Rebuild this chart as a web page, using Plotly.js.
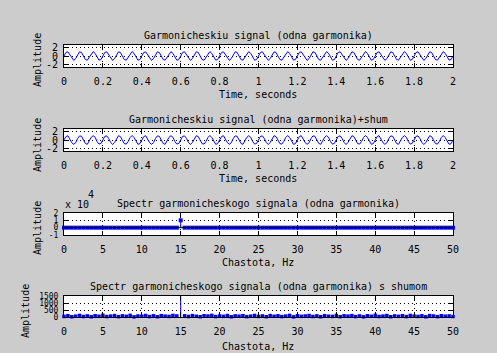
<!DOCTYPE html>
<html>
<head>
<meta charset="utf-8">
<script src="https://cdn.plot.ly/plotly-3.0.1.min.js"></script>
<style>
html,body{margin:0;padding:0;background:#cccccc;}
#chart{width:497px;height:353px;}
</style>
</head>
<body>
<div id="chart"></div>
<script>
// ---------- DATA ----------
// sampling: t = 0 .. 2 s, step 0.01 s (201 samples)
const timeStart = 0;
const timeStep = 0.01;

// harmonic signal, 15 Hz
const signal = [
0,0.81,0.95,0.31,-0.59,-1,-0.59,0.31,0.95,0.81,0,-0.81,-0.95,-0.31,0.59,1,0.59,-0.31,-0.95,-0.81,
0,0.81,0.95,0.31,-0.59,-1,-0.59,0.31,0.95,0.81,0,-0.81,-0.95,-0.31,0.59,1,0.59,-0.31,-0.95,-0.81,
0,0.81,0.95,0.31,-0.59,-1,-0.59,0.31,0.95,0.81,0,-0.81,-0.95,-0.31,0.59,1,0.59,-0.31,-0.95,-0.81,
0,0.81,0.95,0.31,-0.59,-1,-0.59,0.31,0.95,0.81,0,-0.81,-0.95,-0.31,0.59,1,0.59,-0.31,-0.95,-0.81,
0,0.81,0.95,0.31,-0.59,-1,-0.59,0.31,0.95,0.81,0,-0.81,-0.95,-0.31,0.59,1,0.59,-0.31,-0.95,-0.81,
0,0.81,0.95,0.31,-0.59,-1,-0.59,0.31,0.95,0.81,0,-0.81,-0.95,-0.31,0.59,1,0.59,-0.31,-0.95,-0.81,
0,0.81,0.95,0.31,-0.59,-1,-0.59,0.31,0.95,0.81,0,-0.81,-0.95,-0.31,0.59,1,0.59,-0.31,-0.95,-0.81,
0,0.81,0.95,0.31,-0.59,-1,-0.59,0.31,0.95,0.81,0,-0.81,-0.95,-0.31,0.59,1,0.59,-0.31,-0.95,-0.81,
0,0.81,0.95,0.31,-0.59,-1,-0.59,0.31,0.95,0.81,0,-0.81,-0.95,-0.31,0.59,1,0.59,-0.31,-0.95,-0.81,
0,0.81,0.95,0.31,-0.59,-1,-0.59,0.31,0.95,0.81,0,-0.81,-0.95,-0.31,0.59,1,0.59,-0.31,-0.95,-0.81,
0
];

// same signal with a little noise (noise is too small to see at this scale)
const signalNoisy = [
0.04,0.78,0.97,0.27,-0.61,-0.98,-0.62,0.33,0.93,0.84,-0.03,-0.79,-0.97,-0.28,0.61,0.98,0.62,-0.34,-0.93,-0.78,
0.02,0.83,0.93,0.34,-0.56,-1.03,-0.57,0.29,0.97,0.78,0.03,-0.83,-0.92,-0.33,0.57,1.02,0.56,-0.28,-0.98,-0.83,
0.04,0.78,0.97,0.27,-0.61,-0.98,-0.62,0.33,0.93,0.84,-0.03,-0.79,-0.97,-0.28,0.61,0.98,0.62,-0.34,-0.93,-0.78,
0.02,0.83,0.93,0.34,-0.56,-1.03,-0.57,0.29,0.97,0.78,0.03,-0.83,-0.92,-0.33,0.57,1.02,0.56,-0.28,-0.98,-0.83,
0.04,0.78,0.97,0.27,-0.61,-0.98,-0.62,0.33,0.93,0.84,-0.03,-0.79,-0.97,-0.28,0.61,0.98,0.62,-0.34,-0.93,-0.78,
0.02,0.83,0.93,0.34,-0.56,-1.03,-0.57,0.29,0.97,0.78,0.03,-0.83,-0.92,-0.33,0.57,1.02,0.56,-0.28,-0.98,-0.83,
0.04,0.78,0.97,0.27,-0.61,-0.98,-0.62,0.33,0.93,0.84,-0.03,-0.79,-0.97,-0.28,0.61,0.98,0.62,-0.34,-0.93,-0.78,
0.02,0.83,0.93,0.34,-0.56,-1.03,-0.57,0.29,0.97,0.78,0.03,-0.83,-0.92,-0.33,0.57,1.02,0.56,-0.28,-0.98,-0.83,
0.04,0.78,0.97,0.27,-0.61,-0.98,-0.62,0.33,0.93,0.84,-0.03,-0.79,-0.97,-0.28,0.61,0.98,0.62,-0.34,-0.93,-0.78,
0.02,0.83,0.93,0.34,-0.56,-1.03,-0.57,0.29,0.97,0.78,0.03,-0.83,-0.92,-0.33,0.57,1.02,0.56,-0.28,-0.98,-0.83,
0.03
];

// spectrum: f = 0 .. 50 Hz, step 0.5 Hz (101 bins)
const freqStart = 0;
const freqStep = 0.5;

const spectrum = [
0,0,0,0,0,0,0,0,0,0,
0,0,0,0,0,0,0,0,0,0,
0,0,0,0,0,0,0,0,0,0,
10000,0,0,0,0,0,0,0,0,0,
0,0,0,0,0,0,0,0,0,0,
0,0,0,0,0,0,0,0,0,0,
0,0,0,0,0,0,0,0,0,0,
0,0,0,0,0,0,0,0,0,0,
0,0,0,0,0,0,0,0,0,0,
0,0,0,0,0,0,0,0,0,0,
0
];

const spectrumNoisy = [
40,95,20,60,110,35,75,15,90,50,
120,30,65,100,25,80,45,115,10,70,
55,105,30,85,20,95,60,40,110,75,
10000,85,35,100,50,20,90,65,115,30,
70,45,105,15,80,55,95,25,60,110,
40,75,20,100,50,85,30,65,115,10,
90,45,70,105,35,80,20,95,55,40,
110,25,85,60,100,30,75,15,90,50,
120,35,65,105,20,80,45,95,30,110,
60,40,85,15,100,70,25,90,55,75,
35
];

// tick labels
const timeTickStep = 0.2;
const freqTickStep = 5;
const signalTickVals = [-2, 0, 2];
const signalTickText = ['-2', '0', '2'];
const spec1TickVals = [-10000, 0, 10000, 20000];
const spec1TickText = ['-1', '0', '1', '2'];
const spec2TickVals = [0, 500, 1000, 1500];
const spec2TickText = ['0', '500', '1000', '1500'];

// texts
const titles = [
  'Garmonicheskiu signal (odna garmonika)',
  'Garmonicheskiu signal (odna garmonika)+shum',
  'Spectr garmonicheskogo signala (odna garmonika)',
  'Spectr garmonicheskogo signala (odna garmonika) s shumom'
];
const xLabels = ['Time, seconds', 'Time, seconds', 'Chastota, Hz', 'Chastota, Hz'];
const yLabel = 'Amplitude';

// ---------- LAYOUT ----------
const W = 497, H = 353;
const FONT = 'DejaVu Sans Mono';
const BLUE = '#0000ff';
const px = x => x / W;
const py = y => 1 - y / H;

const boxLeft = 64, boxRight = 453;
const boxes = [[45, 67], [129, 151], [213, 235], [296, 317]]; // top,bottom in px

function xAxis(i, range, dtick) {
  return {
    domain: [px(boxLeft), px(boxRight)],
    anchor: 'y' + (i === 1 ? '' : i),
    range: range, dtick: dtick, tick0: 0,
    showline: true, linecolor: '#000', linewidth: 1, mirror: 'ticks',
    ticks: 'inside', ticklen: 4, tickcolor: '#000', tickwidth: 1,
    showgrid: true, gridcolor: '#000', gridwidth: 1, griddash: '1px,3px',
    zeroline: false,
    tickfont: {family: FONT, size: 10, color: '#000'},
    ticklabelstandoff: 5,
    fixedrange: true
  };
}
function yAxis(i, range, vals, text, fsize) {
  const b = boxes[i - 1];
  return {
    domain: [py(b[1]), py(b[0])],
    anchor: 'x' + (i === 1 ? '' : i),
    range: range, tickmode: 'array', tickvals: vals, ticktext: text,
    showline: true, linecolor: '#000', linewidth: 1, mirror: 'ticks',
    ticks: 'inside', ticklen: 4, tickcolor: '#000', tickwidth: 1,
    showgrid: true, gridcolor: '#000', gridwidth: 1, griddash: '1px,3px',
    zeroline: false,
    tickfont: {family: FONT, size: fsize, color: '#000'},
    ticklabelstandoff: 3,
    fixedrange: true
  };
}

// stems built from the data arrays
function stems(values) {
  const sx = [], sy = [];
  values.forEach((v, k) => {
    const f = freqStart + k * freqStep;
    sx.push(f, f, null);
    sy.push(0, v, null);
  });
  return {sx, sy};
}
const st1 = stems(spectrum);
const st2 = stems(spectrumNoisy);

const traces = [
  {x0: timeStart, dx: timeStep, y: signal, type: 'scatter', mode: 'lines',
   line: {color: BLUE, width: 1}, xaxis: 'x', yaxis: 'y', hoverinfo: 'skip'},
  {x0: timeStart, dx: timeStep, y: signalNoisy, type: 'scatter', mode: 'lines',
   line: {color: BLUE, width: 1}, xaxis: 'x2', yaxis: 'y2', hoverinfo: 'skip'},
  {x: st1.sx, y: st1.sy, type: 'scatter', mode: 'lines', connectgaps: false,
   line: {color: BLUE, width: 1}, xaxis: 'x3', yaxis: 'y3', hoverinfo: 'skip'},
  {x0: freqStart, dx: freqStep, y: spectrum, type: 'scatter', mode: 'markers', cliponaxis: false,
   marker: {color: BLUE, size: 4, symbol: 'square', line: {width: 0}}, xaxis: 'x3', yaxis: 'y3', hoverinfo: 'skip'},
  {x: st2.sx, y: st2.sy, type: 'scatter', mode: 'lines', connectgaps: false,
   line: {color: BLUE, width: 1}, xaxis: 'x4', yaxis: 'y4', hoverinfo: 'skip'},
  {x0: freqStart, dx: freqStep, y: spectrumNoisy, type: 'scatter', mode: 'markers', cliponaxis: false,
   marker: {color: BLUE, size: 3.5, symbol: 'square', line: {width: 0}}, xaxis: 'x4', yaxis: 'y4', hoverinfo: 'skip'}
];

const annotations = [];
const titleY = [35.5, 119, 203.5, 286.5];
const xLabY = [94.5, 178.5, 262, 346];
const yLabPos = [[37, 60], [37, 145], [37, 228], [25, 311]];
for (let i = 0; i < 4; i++) {
  annotations.push({text: titles[i], xref: 'paper', yref: 'paper', x: px(258.5), y: py(titleY[i]),
    xanchor: 'center', yanchor: 'middle', showarrow: false, font: {family: FONT, size: 10, color: '#000'}});
  annotations.push({text: xLabels[i], xref: 'paper', yref: 'paper', x: px(258), y: py(xLabY[i]),
    xanchor: 'center', yanchor: 'middle', showarrow: false, font: {family: FONT, size: 10, color: '#000'}});
  annotations.push({text: yLabel, xref: 'paper', yref: 'paper', x: px(yLabPos[i][0]), y: py(yLabPos[i][1]),
    xanchor: 'center', yanchor: 'middle', textangle: -90, showarrow: false, font: {family: FONT, size: 10, color: '#000'}});
}
// exponent label of the third plot
annotations.push({text: 'x 10', xref: 'paper', yref: 'paper', x: px(63), y: py(204),
  xanchor: 'left', yanchor: 'middle', showarrow: false, font: {family: FONT, size: 10, color: '#000'}});
annotations.push({text: '4', xref: 'paper', yref: 'paper', x: px(86), y: py(194),
  xanchor: 'left', yanchor: 'middle', showarrow: false, font: {family: FONT, size: 10, color: '#000'}});

const layout = {
  width: W, height: H,
  margin: {l: 0, r: 0, t: 0, b: 0, pad: 0},
  paper_bgcolor: '#cccccc', plot_bgcolor: '#ffffff',
  showlegend: false,
  xaxis: xAxis(1, [0, 2], timeTickStep),
  xaxis2: xAxis(2, [0, 2], timeTickStep),
  xaxis3: xAxis(3, [0, 50], freqTickStep),
  xaxis4: xAxis(4, [0, 50], freqTickStep),
  yaxis: yAxis(1, [-2.5, 2.5], signalTickVals, signalTickText, 10),
  yaxis2: yAxis(2, [-2.5, 2.5], signalTickVals, signalTickText, 10),
  yaxis3: yAxis(3, [-10000, 20000], spec1TickVals, spec1TickText, 8),
  yaxis4: yAxis(4, [0, 1500], spec2TickVals, spec2TickText, 8),
  shapes: [
    {type: 'line', xref: 'x3 domain', yref: 'y3', x0: 0, x1: 1, y0: 0, y1: 0,
     line: {color: '#000', width: 1}, layer: 'above'}
  ],
  annotations: annotations,
  font: {family: FONT, size: 10, color: '#000'}
};

Plotly.newPlot('chart', traces, layout, {staticPlot: true, displayModeBar: false});
</script>
</body>
</html>
